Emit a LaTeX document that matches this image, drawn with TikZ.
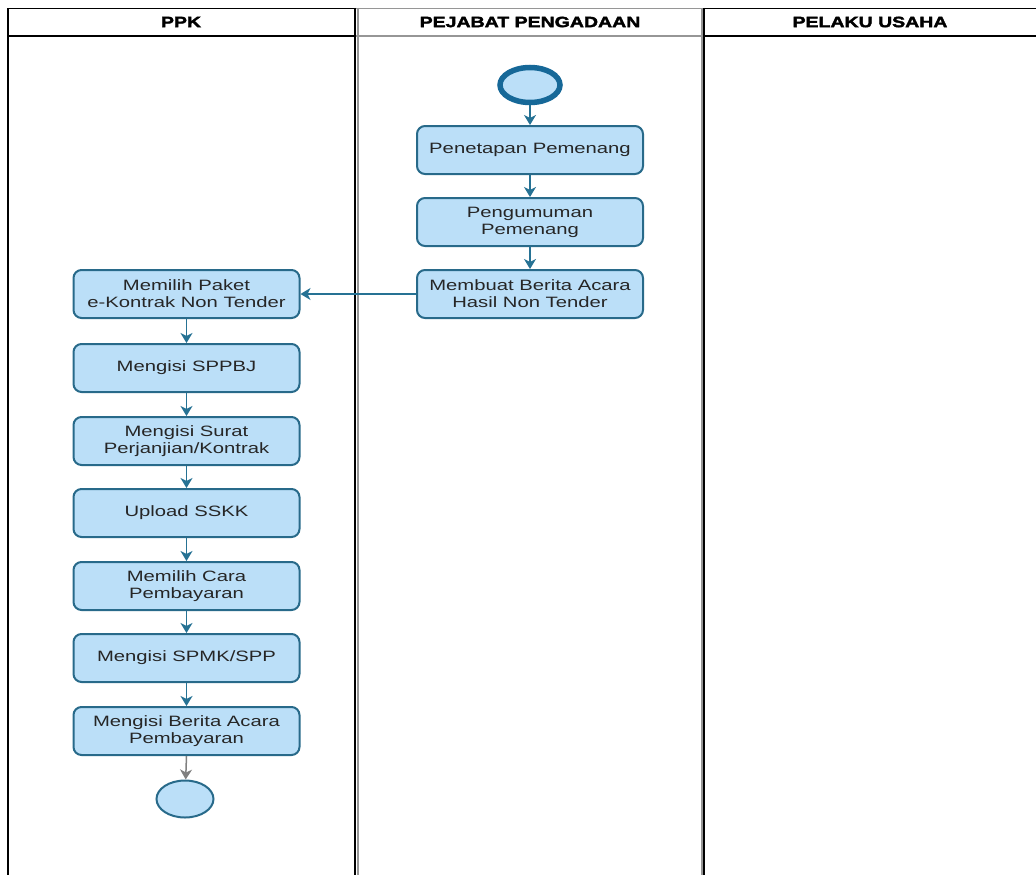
\documentclass[tikz,border=0pt]{standalone}
\usepackage{fontspec}
\setmainfont{Liberation Sans}[FakeStretch=1.35]
\newfontfamily\headfont{Liberation Sans}[FakeStretch=1.3,FakeBold=2.5]
\usetikzlibrary{arrows.meta,shapes.geometric}
\definecolor{boxfill}{RGB}{187,223,248}
\definecolor{boxline}{RGB}{40,106,138}
\definecolor{flow}{RGB}{38,114,148}
\definecolor{startline}{RGB}{22,104,152}
\definecolor{laneshade}{RGB}{150,150,150}
\begin{document}
\begin{tikzpicture}[
  x=1pt, y=-1pt,
  act/.style={rectangle, rounded corners=8pt, draw=boxline, line width=2pt, fill=boxfill, minimum width=226pt, minimum height=48pt, align=center, inner sep=2pt, font=\fontsize{15}{17}\selectfont, text=black!85},
  startnode/.style={ellipse, draw=startline, line width=5.5pt, fill=boxfill, minimum width=60pt, minimum height=35pt},
  endnode/.style={ellipse, draw=boxline, line width=2pt, fill=boxfill, minimum width=57pt, minimum height=37pt},
  flowto/.style={draw=flow, line width=1.5pt, -{Stealth[length=10pt,width=12pt,inset=3pt]}},
  lane/.style={line width=1.5pt},
  head/.style={font={\headfont\bfseries\fontsize{15}{18}\selectfont}}
]
\useasboundingbox (0,0) rectangle (1036,875);
% swimlanes
\draw[lane] (8,875) -- (8,8.5) -- (1036,8.5);
\draw[lane] (8,36) -- (1036,36);
\draw[lane, laneshade] (356,8.5) -- (703,8.5) (356,36) -- (703,36);
\draw[laneshade, line width=2pt] (357.5,8) -- (357.5,875) (701.5,8) -- (701.5,875);
\draw[lane] (355,8) -- (355,875) (704,8) -- (704,875);
\node[head] (hppk) at (181,22) {PPK};
\node[head] (hpp)  at (530,22) {PEJABAT PENGADAAN};
\node[head] (hpu)  at (870,22) {PELAKU USAHA};

% pejabat pengadaan
\node[startnode] (start) at (530,85) {};
\node[act] (tetap) at (530,150) {Penetapan Pemenang};
\node[act] (umum)  at (530,222) {Pengumuman\\Pemenang};
\node[act] (bahp)  at (530,294) {Membuat Berita Acara\\Hasil Non Tender};

% ppk
\node[act] (paket)  at (186.5,294) {Memilih Paket\\e-Kontrak Non Tender};
\node[act] (sppbj)  at (186.5,368) {Mengisi SPPBJ};
\node[act] (surat)  at (186.5,441) {Mengisi Surat\\Perjanjian/Kontrak};
\node[act] (sskk)   at (186.5,513) {Upload SSKK};
\node[act] (cara)   at (186.5,586) {Memilih Cara\\Pembayaran};
\node[act] (spmk)   at (186.5,658) {Mengisi SPMK/SPP};
\node[act] (bayar)  at (186.5,731) {Mengisi Berita Acara\\Pembayaran};
\node[endnode] (stop) at (185,799) {};

% alur
\draw[flowto] (start) -- (tetap);
\draw[flowto] (tetap) -- (umum);
\draw[flowto] (umum) -- (bahp);
\draw[flowto] (bahp) -- (paket);
\draw[flowto] (paket) -- (sppbj);
\draw[flowto] (sppbj) -- (surat);
\draw[flowto] (surat) -- (sskk);
\draw[flowto] (sskk) -- (cara);
\draw[flowto] (cara) -- (spmk);
\draw[flowto] (spmk) -- (bayar);
\draw[flowto, draw=gray] (bayar.south) -- (stop);
\end{tikzpicture}
\end{document}
